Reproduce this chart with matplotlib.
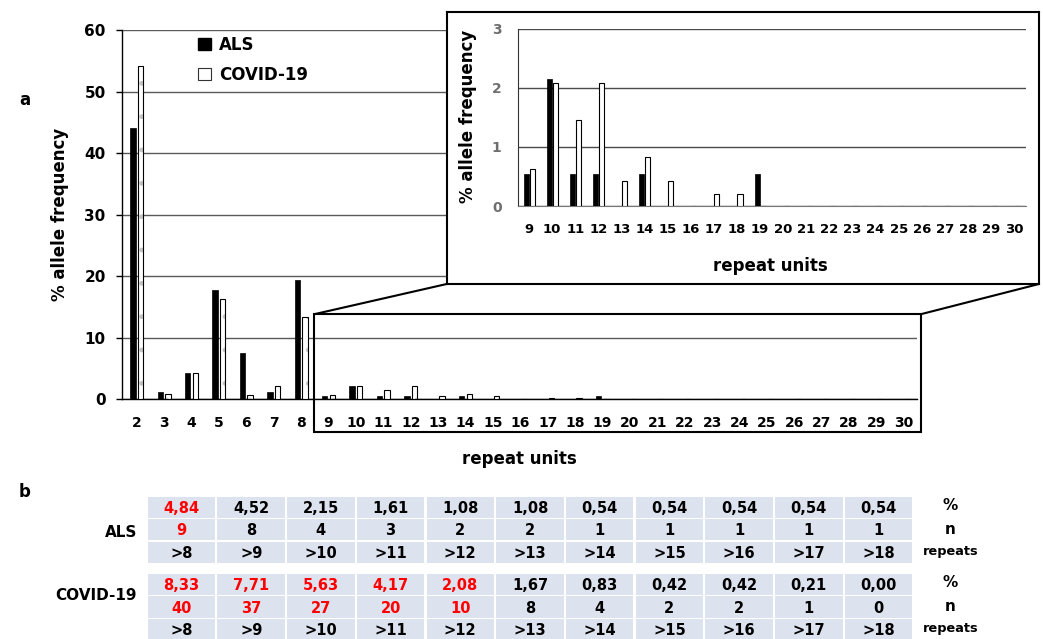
import numpy as np
import matplotlib
matplotlib.use('Agg')
import matplotlib.pyplot as plt
from matplotlib.patches import Rectangle, ConnectionPatch, Patch

W, H = 1043, 639

# ---- data ----
repeat_units = list(range(2, 31))
als_pct = [44.09, 1.08, 4.30, 17.74, 7.53, 1.08, 19.35,
           0.54, 2.15, 0.54, 0.54, 0.0, 0.54, 0.0, 0.0, 0.0, 0.0, 0.54,
           0, 0, 0, 0, 0, 0, 0, 0, 0, 0, 0]
covid_pct = [54.17, 0.83, 4.17, 16.25, 0.63, 2.08, 13.33,
             0.63, 2.08, 1.46, 2.08, 0.42, 0.83, 0.42, 0.0, 0.21, 0.21, 0.0,
             0, 0, 0, 0, 0, 0, 0, 0, 0, 0, 0]
inset_start = 9   # inset shows repeat units 9..30

table_repeats = ['>8', '>9', '>10', '>11', '>12', '>13', '>14', '>15', '>16', '>17', '>18']
als_cum_pct = ['4,84', '4,52', '2,15', '1,61', '1,08', '1,08', '0,54', '0,54', '0,54', '0,54', '0,54']
als_cum_n = [9, 8, 4, 3, 2, 2, 1, 1, 1, 1, 1]
covid_cum_pct = ['8,33', '7,71', '5,63', '4,17', '2,08', '1,67', '0,83', '0,42', '0,42', '0,21', '0,00']
covid_cum_n = [40, 37, 27, 20, 10, 8, 4, 2, 2, 1, 0]
als_n_red = 1
covid_n_red = 5


def px_box(x0, y0, x1, y1):
    return [x0 / W, 1 - y1 / H, (x1 - x0) / W, (y1 - y0) / H]


fig = plt.figure(figsize=(W / 100, H / 100), dpi=100)
fig.patch.set_facecolor('white')

x = np.array(repeat_units)
als = np.array(als_pct)
cov = np.array(covid_pct)

# ================= main chart =================
ax = fig.add_axes(px_box(122.3, 30.3, 917, 399))
ax.set_zorder(0)
ax.bar(x - 0.14, als, width=0.2, color='black', edgecolor='black', linewidth=0.5, zorder=3)
ax.bar(x + 0.14, cov, width=0.2, color='white', edgecolor='#c4c4c4', hatch='.', linewidth=0, zorder=3)
ax.bar(x + 0.14, cov, width=0.2, fill=False, edgecolor='black', linewidth=0.8, zorder=4)

ax.set_xlim(1.474, 30.48)
ax.set_ylim(0, 60)
ax.set_yticks(range(0, 61, 10))
ax.set_xticks(repeat_units)
ax.yaxis.grid(True, color='#5a5a5a', linewidth=1.0)
ax.set_axisbelow(True)
for s in ['top', 'right']:
    ax.spines[s].set_visible(False)
ax.spines['left'].set_linewidth(1.0)
ax.spines['bottom'].set_linewidth(1.0)
ax.tick_params(axis='y', length=4, width=1, pad=8, labelsize=11)
ax.tick_params(axis='x', length=0, pad=12, labelsize=10)
for lab in ax.get_xticklabels() + ax.get_yticklabels():
    lab.set_fontweight('bold')
ax.set_ylabel('% allele frequency', fontsize=12, fontweight='bold')
ax.yaxis.set_label_coords(-0.067, 0.5)
ax.set_xlabel('repeat units', fontsize=12, fontweight='bold')
ax.xaxis.set_label_coords(0.5, -0.138)

handles = [Patch(facecolor='black', edgecolor='black'),
           Patch(facecolor='white', edgecolor='#9a9a9a', hatch='.', linewidth=0.8)]
leg = ax.legend(handles, ['ALS', 'COVID-19'], loc='upper left', bbox_to_anchor=(0.0953, 0.985),
                frameon=False, prop=dict(weight='bold', size=12), handlelength=0.8,
                handleheight=0.8, handletextpad=0.45, labelspacing=0.72,
                borderpad=0, borderaxespad=0)
leg.legend_handles[1].set_edgecolor('#333333')

# zoom frame around 9..30
ax.add_patch(Rectangle((8.48, -5.4), 30.62 - 8.48, 13.8 + 5.4, fill=False,
                       edgecolor='black', linewidth=1.5, clip_on=False, zorder=6))

# ================= inset =================
ax_box = fig.add_axes(px_box(446.7, 12, 1039, 284))
ax_box.set_zorder(1)
ax_box.set_facecolor('white')
ax_box.set_xticks([])
ax_box.set_yticks([])
for s in ax_box.spines.values():
    s.set_linewidth(1.5)

ax_in = fig.add_axes(px_box(518.3, 28.7, 1025.7, 206))
ax_in.set_zorder(2)
ax_in.set_facecolor('none')
i0 = repeat_units.index(inset_start)
xi = x[i0:]
ax_in.bar(xi - 0.13, als[i0:], width=0.22, color='black', edgecolor='black', linewidth=0.5, zorder=3)
ax_in.bar(xi + 0.13, cov[i0:], width=0.22, color='white', edgecolor='black', linewidth=0.8, zorder=3)
ax_in.set_xlim(8.53, 30.5)
ax_in.set_ylim(0, 3)
ax_in.set_yticks([0, 1, 2, 3])
ax_in.set_xticks(list(xi))
ax_in.yaxis.grid(True, color='#4a4a4a', linewidth=1.0)
ax_in.set_axisbelow(True)
for s in ['top', 'right']:
    ax_in.spines[s].set_visible(False)
ax_in.spines['left'].set_color('#333333')
ax_in.spines['bottom'].set_color('#777777')
ax_in.tick_params(axis='y', length=0, pad=12, labelsize=10, labelcolor='#6f6f6f')
ax_in.tick_params(axis='x', length=0, pad=12, labelsize=9.5)
for lab in ax_in.get_xticklabels() + ax_in.get_yticklabels():
    lab.set_fontweight('bold')
ax_in.set_ylabel('% allele frequency', fontsize=12, fontweight='bold')
ax_in.yaxis.set_label_coords(-0.082, 0.504)
ax_in.set_xlabel('repeat units', fontsize=12, fontweight='bold')
ax_in.xaxis.set_label_coords(0.496, -0.288)

for xa, xb in [((8.48, 13.8), (0, 0)), ((30.62, 13.8), (1, 0))]:
    con = ConnectionPatch(xyA=xa, coordsA=ax.transData, xyB=xb, coordsB=ax_box.transAxes,
                          color='black', linewidth=1.5)
    con.set_zorder(10)
    fig.add_artist(con)

# ================= table (b) =================
row_h = 22.5
ax_t = fig.add_axes(px_box(146.7, 496, 913.3, 496 + 6.43 * row_h))
ax_t.set_xlim(0, 11)
ax_t.set_ylim(6.43, 0)
ax_t.axis('off')
cols = np.arange(len(table_repeats))
cell_color = '#dde3ee'
groups = [('ALS', 0.0, als_cum_pct, als_cum_n, als_n_red, 1.62),
          ('COVID-19', 3.43, covid_cum_pct, covid_cum_n, covid_n_red, 4.4)]
for name, top, pct, n, n_red, name_y in groups:
    rows = [pct, [str(v) for v in n], table_repeats]
    for r, row in enumerate(rows):
        ax_t.bar(cols + 0.5, 0.94, bottom=top + r + 0.03, width=0.97, color=cell_color)
        for c, val in enumerate(row):
            red = r < 2 and c < n_red
            ax_t.text(c + 0.5, top + r + 0.55, val, ha='center', va='center',
                      fontsize=10.5, fontweight='bold', color='#ff0000' if red else 'black')
    for r, (lab, sz, dy) in enumerate([('%', 11, -0.1), ('n', 11, 0.0), ('repeats', 9.3, -0.05)]):
        ax_t.text(11.53, top + r + 0.5 + dy, lab, ha='center', va='center',
                  fontsize=sz, fontweight='bold', clip_on=False)
    ax_t.text(-0.14, name_y, name, ha='right', va='center', fontsize=11,
              fontweight='bold', clip_on=False)

fig.text(25 / W, 1 - 100 / H, 'a', fontsize=12, fontweight='bold', ha='center', va='center')
fig.text(25 / W, 1 - 492 / H, 'b', fontsize=12, fontweight='bold', ha='center', va='center')

fig.savefig('out.png', dpi=100)
